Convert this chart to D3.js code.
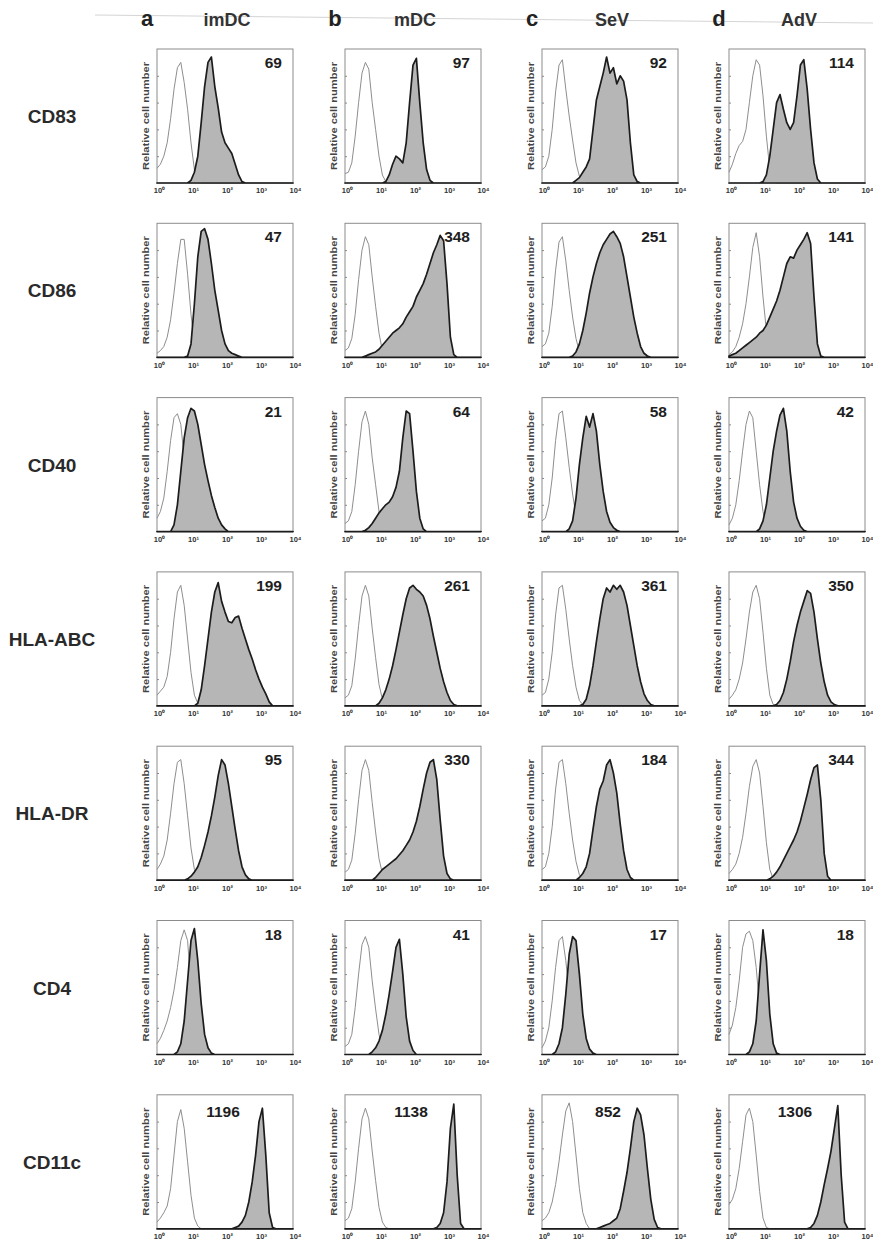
<!DOCTYPE html>
<html>
<head>
<meta charset="utf-8">
<script src="https://cdn.jsdelivr.net/npm/d3@7"></script>
<style>
  body { margin: 0; background: #fff; }
  svg { display: block; font-family: "Liberation Sans", Arial, sans-serif; }
</style>
</head>
<body>
<svg id="chart" width="873" height="1242"></svg>
<script>
// Flow cytometry histograms: surface markers (rows) x DC groups (columns)
const markers = ['CD83', 'CD86', 'CD40', 'HLA-ABC', 'HLA-DR', 'CD4', 'CD11c'];
const groups = ['imDC', 'mDC', 'SeV', 'AdV'];
const groupLetters = ['a', 'b', 'c', 'd'];
const mfi = [
	[69, 97, 92, 114],
	[47, 348, 251, 141],
	[21, 64, 58, 42],
	[199, 261, 361, 350],
	[95, 330, 184, 344],
	[18, 41, 17, 18],
	[1196, 1138, 852, 1306]
];
const xTicks = [1, 10, 100, 1000, 10000];
const xTickLabels = ['10\u2070', '10\u00b9', '10\u00b2', '10\u00b3', '10\u2074'];

// histogram heights (% of panel) at log10 channel 0.0, 0.1, ... 4.0 ; one array per column a-d
const cd83Iso = [
	[11,14,20,30,48,70,86,90,75,55, 30,10,2,0,0,0,0,0,0,0, 0,0,0,0,0,0,0,0,0,0, 0,0,0,0,0,0,0,0,0,0, 0],
	[7,8,15,35,60,82,90,85,60,40, 20,6,1,0,0,0,0,0,0,0, 0,0,0,0,0,0,0,0,0,0, 0,0,0,0,0,0,0,0,0,0, 0],
	[10,12,20,40,68,88,92,70,50,32, 15,5,1,0,0,0,0,0,0,0, 0,0,0,0,0,0,0,0,0,0, 0,0,0,0,0,0,0,0,0,0, 0],
	[8,14,22,28,31,40,60,80,92,88, 65,35,10,2,0,0,0,0,0,0, 0,0,0,0,0,0,0,0,0,0, 0,0,0,0,0,0,0,0,0,0, 0]
];
const cd83Stain = [
	[0,0,0,0,0,0,0,0,0,0, 2,8,20,45,72,90,94,72,56,38, 30,26,22,14,6,1,0,0,0,0, 0,0,0,0,0,0,0,0,0,0, 0],
	[0,0,0,0,0,0,0,0,0,0, 0,0,1,6,14,20,18,15,30,60, 88,93,60,30,10,2,0,0,0,0, 0,0,0,0,0,0,0,0,0,0, 0],
	[0,0,0,0,0,0,0,0,0,0, 2,4,8,12,18,40,62,72,82,94, 82,86,74,80,76,62,30,6,1,0, 0,0,0,0,0,0,0,0,0,0, 0],
	[0,0,0,0,0,0,0,0,0,0, 1,6,20,40,60,66,55,45,40,45, 65,88,92,70,40,15,3,0,0,0, 0,0,0,0,0,0,0,0,0,0, 0]
];
const cd86Iso = [
	[3,5,8,15,28,48,70,88,88,62, 32,10,2,0,0,0,0,0,0,0, 0,0,0,0,0,0,0,0,0,0, 0,0,0,0,0,0,0,0,0,0, 0],
	[5,7,14,32,58,80,90,84,60,38, 18,5,1,0,0,0,0,0,0,0, 0,0,0,0,0,0,0,0,0,0, 0,0,0,0,0,0,0,0,0,0, 0],
	[8,10,18,38,65,86,90,72,50,30, 14,4,1,0,0,0,0,0,0,0, 0,0,0,0,0,0,0,0,0,0, 0,0,0,0,0,0,0,0,0,0, 0],
	[2,4,8,15,25,40,60,82,93,75, 45,20,5,0,0,0,0,0,0,0, 0,0,0,0,0,0,0,0,0,0, 0,0,0,0,0,0,0,0,0,0, 0]
];
const cd86Stain = [
	[0,0,0,0,0,0,0,0,0,1, 10,40,75,94,96,88,70,50,35,20, 10,5,3,2,1,0,0,0,0,0, 0,0,0,0,0,0,0,0,0,0, 0],
	[0,0,0,0,0,0,1,2,3,4, 6,9,12,15,18,20,22,25,30,34, 38,45,50,55,62,70,78,84,91,87, 55,15,2,0,0,0,0,0,0,0, 0],
	[0,0,0,0,0,0,0,0,0,1, 4,10,20,33,48,60,70,78,84,88, 92,94,90,85,75,60,45,30,18,8, 3,1,0,0,0,0,0,0,0,0, 0],
	[1,2,3,5,7,9,11,13,15,18, 20,24,30,36,42,50,60,70,75,74, 80,84,88,93,85,45,10,1,0,0, 0,0,0,0,0,0,0,0,0,0, 0]
];
const cd40Iso = [
	[10,15,25,45,68,85,88,80,55,30, 12,3,0,0,0,0,0,0,0,0, 0,0,0,0,0,0,0,0,0,0, 0,0,0,0,0,0,0,0,0,0, 0],
	[6,8,15,35,60,82,90,80,55,35, 15,4,1,0,0,0,0,0,0,0, 0,0,0,0,0,0,0,0,0,0, 0,0,0,0,0,0,0,0,0,0, 0],
	[8,10,20,40,68,88,90,70,48,28, 12,4,1,0,0,0,0,0,0,0, 0,0,0,0,0,0,0,0,0,0, 0,0,0,0,0,0,0,0,0,0, 0],
	[5,10,20,38,60,80,90,85,60,35, 15,4,0,0,0,0,0,0,0,0, 0,0,0,0,0,0,0,0,0,0, 0,0,0,0,0,0,0,0,0,0, 0]
];
const cd40Stain = [
	[0,0,0,0,0,5,20,45,70,85, 92,90,80,65,50,38,27,18,10,5, 2,0,0,0,0,0,0,0,0,0, 0,0,0,0,0,0,0,0,0,0, 0],
	[0,0,0,0,0,0,1,3,6,10, 14,17,20,22,26,33,45,70,90,88, 60,30,10,2,0,0,0,0,0,0, 0,0,0,0,0,0,0,0,0,0, 0],
	[0,0,0,0,0,0,0,0,2,8, 25,50,70,86,78,88,75,50,30,15, 7,3,1,0,0,0,0,0,0,0, 0,0,0,0,0,0,0,0,0,0, 0],
	[0,0,0,0,0,0,0,0,0,2, 8,20,40,60,75,87,92,75,45,22, 10,4,1,0,0,0,0,0,0,0, 0,0,0,0,0,0,0,0,0,0, 0]
];
const hlaAbcIso = [
	[8,11,14,22,40,65,85,90,75,50, 25,8,2,0,0,0,0,0,0,0, 0,0,0,0,0,0,0,0,0,0, 0,0,0,0,0,0,0,0,0,0, 0],
	[6,8,15,35,60,82,90,82,58,36, 16,5,1,0,0,0,0,0,0,0, 0,0,0,0,0,0,0,0,0,0, 0,0,0,0,0,0,0,0,0,0, 0],
	[8,10,20,40,68,88,90,72,50,30, 14,4,1,0,0,0,0,0,0,0, 0,0,0,0,0,0,0,0,0,0, 0,0,0,0,0,0,0,0,0,0, 0],
	[5,8,12,20,32,50,70,85,90,80, 55,28,8,1,0,0,0,0,0,0, 0,0,0,0,0,0,0,0,0,0, 0,0,0,0,0,0,0,0,0,0, 0]
];
const hlaAbcStain = [
	[0,0,0,0,0,0,0,0,0,0, 0,0,2,12,30,50,70,85,92,78, 70,63,62,66,67,58,50,42,35,27, 20,14,9,3,0,0,0,0,0,0, 0],
	[0,0,0,0,0,0,0,0,0,0, 2,6,12,20,30,42,55,68,80,88, 90,87,85,82,75,65,52,40,28,18, 10,4,1,0,0,0,0,0,0,0, 0],
	[0,0,0,0,0,0,0,0,0,0, 0,0,1,5,15,30,48,65,80,88, 85,90,87,90,85,75,60,45,30,18, 9,4,1,0,0,0,0,0,0,0, 0],
	[0,0,0,0,0,0,0,0,0,0, 0,0,0,0,1,4,10,20,33,48, 60,70,78,86,84,70,50,32,18,8, 3,1,0,0,0,0,0,0,0,0, 0]
];
const hlaDrIso = [
	[8,12,18,30,50,72,88,90,72,48, 24,8,1,0,0,0,0,0,0,0, 0,0,0,0,0,0,0,0,0,0, 0,0,0,0,0,0,0,0,0,0, 0],
	[6,8,15,35,60,82,90,82,58,36, 16,5,1,0,0,0,0,0,0,0, 0,0,0,0,0,0,0,0,0,0, 0,0,0,0,0,0,0,0,0,0, 0],
	[8,10,20,40,68,88,90,72,50,30, 14,4,1,0,0,0,0,0,0,0, 0,0,0,0,0,0,0,0,0,0, 0,0,0,0,0,0,0,0,0,0, 0],
	[5,8,12,20,32,50,70,85,90,80, 55,28,8,1,0,0,0,0,0,0, 0,0,0,0,0,0,0,0,0,0, 0,0,0,0,0,0,0,0,0,0, 0]
];
const hlaDrStain = [
	[0,0,0,0,0,0,0,0,0,1, 3,6,10,17,26,36,48,62,78,90, 86,72,55,38,22,10,4,1,0,0, 0,0,0,0,0,0,0,0,0,0, 0],
	[0,0,0,0,0,0,0,0,0,2, 5,8,10,12,14,16,19,22,26,30, 36,44,55,68,80,88,90,75,45,18, 5,1,0,0,0,0,0,0,0,0, 0],
	[0,0,0,0,0,0,0,0,0,0, 0,2,5,10,20,38,55,68,74,86, 90,80,65,42,22,8,2,0,0,0, 0,0,0,0,0,0,0,0,0,0, 0],
	[0,0,0,0,0,0,0,0,0,0, 0,0,1,3,6,10,15,20,25,30, 36,44,54,64,75,84,86,60,20,3, 0,0,0,0,0,0,0,0,0,0, 0]
];
const cd4Iso = [
	[8,12,18,25,35,48,65,85,93,85, 50,15,3,0,0,0,0,0,0,0, 0,0,0,0,0,0,0,0,0,0, 0,0,0,0,0,0,0,0,0,0, 0],
	[6,8,15,35,60,82,88,80,55,34, 15,4,1,0,0,0,0,0,0,0, 0,0,0,0,0,0,0,0,0,0, 0,0,0,0,0,0,0,0,0,0, 0],
	[5,10,20,40,65,85,88,70,45,20, 6,1,0,0,0,0,0,0,0,0, 0,0,0,0,0,0,0,0,0,0, 0,0,0,0,0,0,0,0,0,0, 0],
	[15,22,35,55,80,90,92,85,65,35, 12,3,0,0,0,0,0,0,0,0, 0,0,0,0,0,0,0,0,0,0, 0,0,0,0,0,0,0,0,0,0, 0]
];
const cd4Stain = [
	[0,0,0,0,0,0,2,8,25,55, 85,94,70,38,15,5,1,0,0,0, 0,0,0,0,0,0,0,0,0,0, 0,0,0,0,0,0,0,0,0,0, 0],
	[0,0,0,0,0,0,0,0,2,5, 10,18,30,45,62,80,86,60,28,10, 3,0,0,0,0,0,0,0,0,0, 0,0,0,0,0,0,0,0,0,0, 0],
	[0,0,0,0,2,8,20,45,75,88, 85,60,30,12,4,1,0,0,0,0, 0,0,0,0,0,0,0,0,0,0, 0,0,0,0,0,0,0,0,0,0, 0],
	[0,0,0,0,0,0,2,8,25,60, 93,70,30,8,1,0,0,0,0,0, 0,0,0,0,0,0,0,0,0,0, 0,0,0,0,0,0,0,0,0,0, 0]
];
const cd11cIso = [
	[5,8,12,17,30,55,80,89,75,50, 25,8,2,0,0,0,0,0,0,0, 0,0,0,0,0,0,0,0,0,0, 0,0,0,0,0,0,0,0,0,0, 0],
	[6,8,15,35,60,82,90,82,58,36, 16,5,1,0,0,0,0,0,0,0, 0,0,0,0,0,0,0,0,0,0, 0,0,0,0,0,0,0,0,0,0, 0],
	[6,8,12,20,33,50,70,88,94,80, 55,30,12,4,0,0,0,0,0,0, 0,0,0,0,0,0,0,0,0,0, 0,0,0,0,0,0,0,0,0,0, 0],
	[18,22,30,45,65,85,90,80,55,28, 8,1,0,0,0,0,0,0,0,0, 0,0,0,0,0,0,0,0,0,0, 0,0,0,0,0,0,0,0,0,0, 0]
];
const cd11cStain = [
	[0,0,0,0,0,0,0,0,0,0, 0,0,0,0,0,0,0,0,0,0, 0,0,0,1,2,5,10,20,35,55, 80,90,55,12,1,0,0,0,0,0, 0],
	[0,0,0,0,0,0,0,0,0,0, 0,0,0,0,0,0,0,0,0,0, 0,0,0,0,0,0,0,1,4,12, 35,75,93,40,4,0,0,0,0,0, 0],
	[0,0,0,0,0,0,0,0,0,0, 0,0,0,0,0,0,0,1,2,3, 4,6,8,15,28,42,60,80,90,85, 70,45,22,7,1,0,0,0,0,0, 0],
	[0,0,0,0,0,0,0,0,0,0, 0,0,0,0,0,0,0,0,0,0, 0,0,0,0,1,4,10,20,33,45, 58,75,92,40,5,0,0,0,0,0, 0]
];

const isoRows = [cd83Iso, cd86Iso, cd40Iso, hlaAbcIso, hlaDrIso, cd4Iso, cd11cIso];
const stainRows = [cd83Stain, cd86Stain, cd40Stain, hlaAbcStain, hlaDrStain, cd4Stain, cd11cStain];

// layout
const colLeft = [157, 345, 542, 729];
const panelW = 136;
const panelH = 134;
const rowTop = r => 49 + r * 174.3;

const svg = d3.select('#chart');
svg.append('rect').attr('width', 873).attr('height', 1242).attr('fill', '#fff');

const x = d3.scaleLog().domain([1, 10000]).range([0, panelW]);
const y = d3.scaleLinear().domain([0, 100]).range([panelH, 0]);
// channel position of each histogram bin (log10 = 0.0 ... 4.0)
const channel = d3.range(41).map(i => Math.pow(10, i / 10));

const area = d3.area().x((d, i) => x(channel[i])).y0(panelH).y1(d => y(d));
const line = d3.line().x((d, i) => x(channel[i])).y(d => y(d));

// faint scan line at the top of the page
svg.append('line').attr('x1', 95).attr('y1', 15).attr('x2', 873).attr('y2', 23)
	.attr('stroke', '#d4d4d4').attr('stroke-width', 1);

/* Column headers */
groups.forEach((g, c) => {
	svg.append('text').attr('x', colLeft[c] - 10).attr('y', 26).attr('text-anchor', 'middle')
		.attr('font-size', 22).attr('font-weight', 'bold').attr('fill', '#222').text(groupLetters[c]);
	svg.append('text').attr('x', colLeft[c] + 70).attr('y', 26).attr('text-anchor', 'middle')
		.attr('font-size', 18).attr('font-weight', 'bold').attr('fill', '#333').text(g);
});

/* Panels */
markers.forEach((m, r) => {
	const top = rowTop(r);
	svg.append('text').attr('x', 52).attr('y', top + panelH / 2 + 7).attr('text-anchor', 'middle')
		.attr('font-size', 19).attr('font-weight', 'bold').attr('fill', '#2a2a2a').text(m);

	groups.forEach((g, c) => {
		const p = svg.append('g').attr('transform', `translate(${colLeft[c]},${top})`);

		p.append('rect').attr('width', panelW).attr('height', panelH)
			.attr('fill', 'none').attr('stroke', '#8c8c8c').attr('stroke-width', 1);

		p.append('g').call(d3.axisLeft(y).tickValues([20, 40, 60, 80]).tickSize(-2).tickFormat(''))
			.call(s => s.select('.domain').remove())
			.selectAll('line').attr('stroke', '#888');

		const xa = p.append('g').attr('transform', `translate(0,${panelH})`)
			.call(d3.axisBottom(x).tickValues(xTicks).tickSize(0).tickPadding(5).tickFormat((d, i) => xTickLabels[i]));
		xa.select('.domain').remove();
		xa.selectAll('text').attr('dx', 2).attr('font-size', 7.5).attr('font-weight', 'bold')
			.attr('font-family', '"Liberation Sans", Arial, sans-serif').attr('fill', '#333');

		p.append('text').attr('transform', `translate(-11,${panelH / 2}) rotate(-90)`)
			.attr('text-anchor', 'middle').attr('dy', '0.35em')
			.attr('font-size', 8.5).attr('font-weight', 'bold').attr('fill', '#444')
			.attr('textLength', 108).attr('lengthAdjust', 'spacingAndGlyphs')
			.text('Relative cell number');

		// isotype control (open) then stained sample (filled)
		p.append('path').datum(isoRows[r][c]).attr('d', line)
			.attr('fill', 'none').attr('stroke', '#8e8e8e').attr('stroke-width', 1);
		p.append('path').datum(stainRows[r][c]).attr('d', area)
			.attr('fill', '#b6b6b6').attr('stroke', '#1c1c1c').attr('stroke-width', 1.7)
			.attr('stroke-linejoin', 'round');

		const last = r === markers.length - 1;
		p.append('text')
			.attr('x', last ? panelW / 2 - 2 : panelW - 11)
			.attr('y', last ? 22 : 19)
			.attr('text-anchor', last ? 'middle' : 'end')
			.attr('font-size', 15.5).attr('font-weight', 'bold').attr('fill', '#1e1e1e')
			.text(mfi[r][c]);
	});
});
</script>
</body>
</html>
